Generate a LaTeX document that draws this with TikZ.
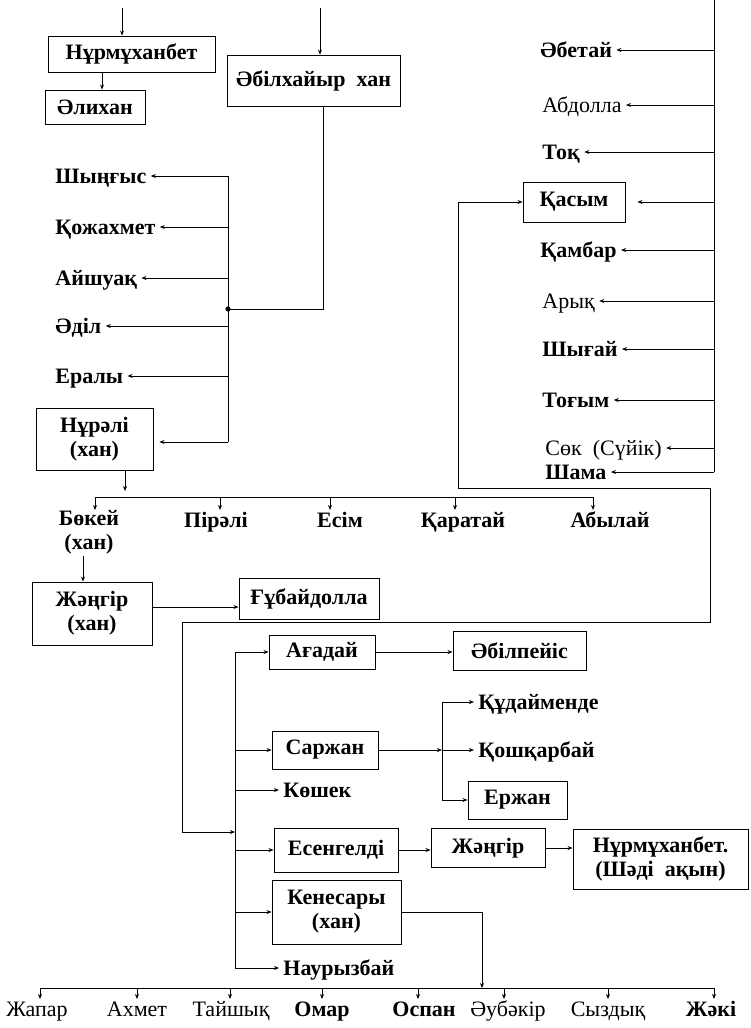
\documentclass[tikz,border=0pt]{standalone}
\usepackage{fontspec}
\setmainfont{Liberation Serif}
\usetikzlibrary{arrows.meta}

\begin{document}
\begin{tikzpicture}[
  x=1pt, y=-1pt,
  >={Stealth[length=5pt,width=4pt]},
  line width=0.9pt,
  font=\fontsize{22}{24}\selectfont\bfseries,
  box/.style 2 args={draw, align=center, inner sep=2pt,
    minimum width=#1pt, minimum height=#2pt},
  lbl/.style={anchor=base west, inner sep=4pt},
  kid/.style={anchor=base, inner sep=1pt},
  thin/.style={font=\fontsize{22}{24}\selectfont\mdseries}
]
  \useasboundingbox (0,0) rectangle (751,1028);

  % Нұрмұханбет, Әлихан
  \coordinate (inA) at (122,8);
  \node[box={167}{36}] (nurm) at (131.5,54) {Нұрмұханбет};
  \node[box={100}{34}] (alik) at (95,107) {Әлихан};
  \draw[->] (inA) -- (inA |- nurm.north);
  \draw[->] (nurm.south -| 102,0) -- (alik.north -| 102,0);

  % Әбілхайыр хан
  \coordinate (inB) at (320,8);
  \node[box={173}{51}] (abil) at (313.5,80.5) {Әбілхайыр\ \ хан};
  \draw[->] (inB) -- (inB |- abil.north);
  \coordinate (jA) at (228,309);
  \coordinate (trA) at (228,176);
  \coordinate (trA2) at (228,442);
  \draw (abil.south -| 323,0) |- (jA);
  \draw (trA) -- (trA2);
  \fill (jA) circle (2.6pt);
  \node[lbl] (shyn) at (51,183) {Шыңғыс};
  \node[lbl] (qozh) at (51,234) {Қожахмет};
  \node[lbl] (aish) at (51,285) {Айшуақ};
  \node[lbl] (adil) at (51,333) {Әділ};
  \node[lbl] (eraly) at (51,383) {Ералы};
  \node[box={117}{62}] (nural) at (94.5,439) {Нұрәлі\\(хан)};
  \foreach \n in {shyn,qozh,aish,adil,eraly}{
    \coordinate (tip) at ([yshift=7pt]\n.base east);
    \draw[->] (trA |- tip) -- (tip);
  }
  \draw[->, shorten >=6pt] (trA2) -- (trA2 -| nural.east);

  % Нұрәлі ұлдары
  \coordinate (hA) at (95,497);
  \coordinate (hB) at (593,497);
  \coordinate (kA) at (0,510);
  \draw (hA) -- (hB);
  \draw[->, shorten >=6pt] (nural.south -| 125,0) -- (hA -| 125,0);
  \node[anchor=north, align=center, inner sep=1pt] (bokei) at (89,509) {Бөкей\\(хан)};
  \node[kid] (pirali) at (216,527) {Пірәлі};
  \node[kid] (esim) at (340,527) {Есім};
  \node[kid] (qarat) at (463,527) {Қаратай};
  \node[kid] (abyl) at (610,527) {Абылай};
  \foreach \x in {95,220,330,455,593}
    \draw[->] (hA -| \x,0) -- (kA -| \x,0);
  \node[box={120}{63}] (zhang) at (92,613.5) {Жәңгір\\(хан)};
  \draw[->] (bokei.south -| 83,0) -- (zhang.north -| 83,0);
  \node[box={140}{41}] (gub) at (309,598.5) {Ғұбайдолла};
  \draw[->] (zhang.east |- 0,607) -- (gub.west |- 0,607);

  % оң жақ бағана
  \coordinate (trC) at (714,0);
  \coordinate (trC2) at (714,472);
  \draw (trC) -- (trC2);
  \node[lbl] (abet) at (536,57) {Әбетай};
  \node[lbl, thin] (abdol) at (538,112) {Абдолла};
  \node[lbl] (toq) at (538,159) {Тоқ};
  \node[box={102}{40}] (qasym) at (574,202) {Қасым};
  \node[lbl] (qambar) at (536,257) {Қамбар};
  \node[lbl, thin] (aryq) at (538,308) {Арық};
  \node[lbl] (shyg) at (538,356) {Шығай};
  \node[lbl] (togym) at (538,407) {Тоғым};
  \node[lbl, thin, inner ysep=1pt] (sok) at (541,455) {Сөк\ \ (Сүйік)};
  \node[lbl, inner ysep=1pt] (shama) at (541,479) {Шама};
  \foreach \n in {abet,abdol,toq,qambar,aryq,shyg,togym,sok,shama}{
    \coordinate (tip) at ([yshift=7pt]\n.base east);
    \draw[->] (trC |- tip) -- (tip);
  }
  \draw[->, shorten >=12pt] (trC |- qasym.east) -- (qasym.east);

  % Қасым ұлдары
  \coordinate (lpA) at (458,488);
  \coordinate (lpB) at (710,622);
  \coordinate (lpC) at (182,832);
  \coordinate (trD) at (235,652);
  \coordinate (trD2) at (235,968);
  \draw[<->] (qasym.west) -| (lpA) -| (lpB) -| (lpC) -- (lpC -| trD);
  \draw (trD) -- (trD2);
  \node[box={106}{34}] (agad) at (322,652) {Ағадай};
  \node[box={133}{39}] (abilp) at (519.5,650.5) {Әбілпейіс};
  \node[box={106}{38}] (sarzh) at (325,750) {Саржан};
  \node[lbl] (kosh) at (279,797) {Көшек};
  \node[box={124}{44}] (eseng) at (336,850) {Есенгелді};
  \node[box={129}{64}] (kenes) at (336.5,912) {Кенесары\\(хан)};
  \node[lbl] (nauryz) at (279,975) {Наурызбай};
  \foreach \n in {agad,sarzh,eseng,kenes}
    \draw[->] (trD |- \n.west) -- (\n.west);
  \foreach \n in {kosh,nauryz}{
    \coordinate (tip) at ([yshift=7pt]\n.base west);
    \draw[->] (trD |- tip) -- (tip);
  }
  \draw[->] (agad.east) -- (abilp.west |- agad.east);

  \coordinate (trE) at (442,702);
  \coordinate (trE2) at (442,800);
  \draw (trE) -- (trE2);
  \draw[->] (sarzh.east) -- (sarzh.east -| trE);
  \node[lbl] (qudai) at (474,709) {Құдайменде};
  \node[lbl] (qoshq) at (474,757) {Қошқарбай};
  \node[box={99}{38}] (erzh) at (517.5,800) {Ержан};
  \foreach \n in {qudai,qoshq}{
    \coordinate (tip) at ([yshift=7pt]\n.base west);
    \draw[->] (trE |- tip) -- (tip);
  }
  \draw[->] (trE |- erzh.west) -- (erzh.west);

  \node[box={114}{39}] (zhang2) at (488,848) {Жәңгір};
  \node[box={175}{60}] (nurm2) at (660.5,859) {Нұрмұханбет.\\(Шәді\ \ ақын)};
  \draw[->] (eseng.east) -- (zhang2.west |- eseng.east);
  \draw[->] (zhang2.east) -- (nurm2.west |- zhang2.east);

  % Кенесары ұлдары
  \coordinate (bA) at (40,988);
  \coordinate (bB) at (714,988);
  \coordinate (kB) at (0,999);
  \draw (bA) -- (bB);
  \draw[->] (kenes.east) -| (bA -| 482,0);
  \node[kid, thin] (zhapar) at (37,1016) {Жапар};
  \node[kid, thin] (akhmet) at (137,1016) {Ахмет};
  \node[kid, thin] (taish) at (231,1016) {Тайшық};
  \node[kid] (omar) at (322,1016) {Омар};
  \node[kid] (ospan) at (424,1016) {Оспан};
  \node[kid, thin] (aubak) at (508,1016) {Әубәкір};
  \node[kid, thin] (syzd) at (608,1016) {Сыздық};
  \node[kid] (zhaki) at (711,1016) {Жәкі};
  \foreach \x in {40,137,230,322,418,504,608,714}
    \draw[->] (bA -| \x,0) -- (kB -| \x,0);
\end{tikzpicture}
\end{document}
